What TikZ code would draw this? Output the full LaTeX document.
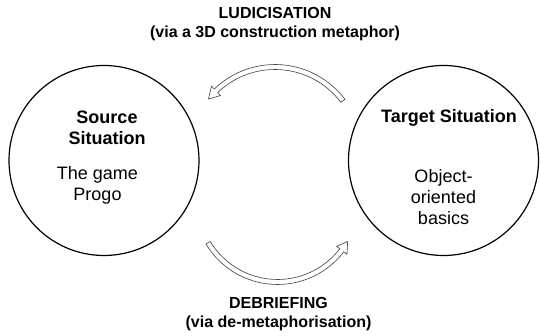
\documentclass[tikz,border=0pt]{standalone}
\usepackage{fontspec}
\setmainfont{Liberation Sans}
\begin{document}
\begin{tikzpicture}[x=1pt,y=1pt,
  situation/.style={circle, draw=black, line width=1.2pt, minimum size=190pt, inner sep=0pt},
  ttl/.style={font=\fontsize{18}{21}\selectfont\bfseries, align=center, inner sep=0pt},
  body/.style={font=\fontsize{18}{21}\selectfont, align=center, inner sep=0pt},
  lbl/.style={font=\fontsize{16}{19}\selectfont\bfseries, align=center, inner sep=0pt},
  blockarrow/.style={draw=black!75, line width=0.6pt, fill=white, line join=miter}]
\useasboundingbox (0,0) rectangle (540,336);

% circles
\node[situation] (src) at (104,175.5) {};
\node[situation] (tgt) at (443.5,175.5) {};

% circle texts
\node[ttl] (srctitle) at (107,208.5) {Source\\Situation};
\node[body] (srcbody) at (97.5,151) {The game\\Progo};
\node[ttl] (tgttitle) at (449,218) {Target Situation};
\node[body] (tgtbody) at (443.5,139) {Object-\\oriented\\basics};

% labels
\node[lbl] (ludic) at (275,312) {LUDICISATION\\(via a 3D construction metaphor)};
\node[lbl] (debrief) at (278.5,22) {DEBRIEFING\\(via de-metaphorisation)};

% top block arrow (right to left, over the top)
\begin{scope}[shift={(275,184)}]
  \draw[blockarrow] (37:82.5) arc[start angle=37, end angle=134, radius=82.5]
    -- (134:78.5) -- (141.5:85) -- (134:91.5) -- (134:87.5)
    arc[start angle=134, end angle=37, radius=87.5] -- cycle;
\end{scope}

% bottom block arrow (left to right, under the bottom)
\begin{scope}[shift={(277.5,135)}]
  \draw[blockarrow] (211:78.5) arc[start angle=211, end angle=322.5, radius=78.5]
    -- (322.5:74.5) -- (330:81) -- (322.5:87.5) -- (322.5:83.5)
    arc[start angle=322.5, end angle=211, radius=83.5] -- cycle;
\end{scope}
\end{tikzpicture}
\end{document}
